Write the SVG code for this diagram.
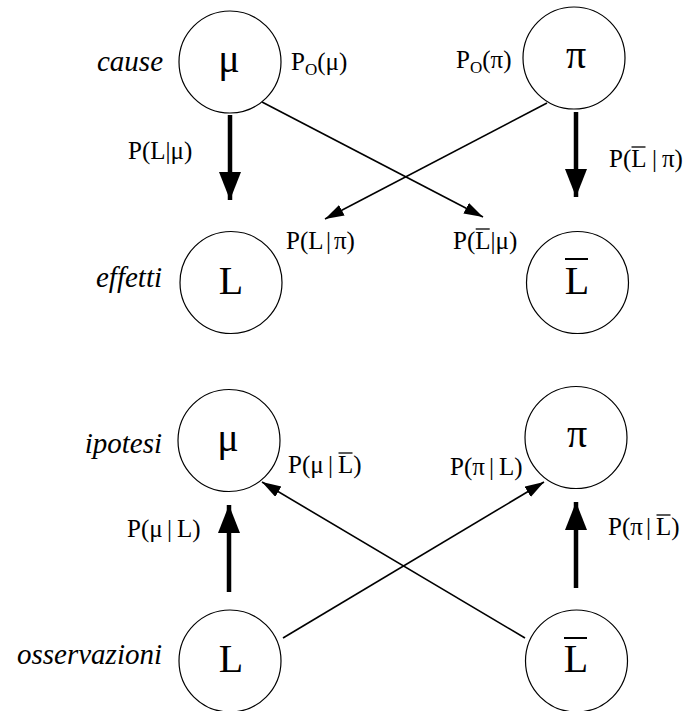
<svg xmlns="http://www.w3.org/2000/svg" width="687" height="711" viewBox="0 0 687 711">
<style>
text{font-family:"Liberation Serif","Times New Roman",serif}
.node circle{fill:#fff;stroke:#000;stroke-width:1.2}
.big{font-size:40px;text-anchor:middle}
.greek{font-size:40px;text-anchor:middle}
.lab{font-size:25px}
.sub{font-size:17px}
.it{font-size:29px;font-style:italic;text-anchor:end}
.bar{stroke:#000;stroke-width:1.3}
.bigbar{stroke:#000;stroke-width:2}
.thick{stroke:#000;stroke-width:4.5;fill:none}
.thin{stroke:#000;stroke-width:1.6;fill:none}
</style>
<defs>
<marker id="hb" markerUnits="userSpaceOnUse" markerWidth="30" markerHeight="24" refX="28" refY="11" orient="auto"><path d="M0,0 L28,11 L0,22 z" fill="#000"/></marker>
<marker id="hs" markerUnits="userSpaceOnUse" markerWidth="20" markerHeight="14" refX="19" refY="6" orient="auto"><path d="M0,0 L19,6 L0,12 z" fill="#000"/></marker>
</defs>
<rect width="687" height="711" fill="#fff"/>
<g id="connectors">
<line class="thick" x1="230" y1="115" x2="230" y2="200" marker-end="url(#hb)"/>
<line class="thick" x1="576" y1="112" x2="576" y2="197" marker-end="url(#hb)"/>
<line class="thin" x1="262" y1="102" x2="483" y2="217" marker-end="url(#hs)"/>
<line class="thin" x1="547" y1="103" x2="325" y2="219" marker-end="url(#hs)"/>
<line class="thick" x1="229" y1="592" x2="229" y2="505" marker-end="url(#hb)"/>
<line class="thick" x1="576" y1="588" x2="576" y2="502" marker-end="url(#hb)"/>
<line class="thin" x1="283" y1="638" x2="544" y2="482" marker-end="url(#hs)"/>
<line class="thin" x1="525" y1="638" x2="262" y2="482" marker-end="url(#hs)"/>
</g>
<g id="node-mu-cause" class="node"><circle cx="230" cy="62" r="51"/><text class="greek" x="229" y="72">μ</text></g>
<g id="node-pi-cause" class="node"><circle cx="574" cy="58" r="51"/><text class="greek" x="576" y="68">π</text></g>
<g id="node-L-effetti" class="node"><circle cx="231" cy="282.5" r="51"/><text class="big" x="231" y="294">L</text></g>
<g id="node-Lbar-effetti" class="node"><circle cx="577.5" cy="282.5" r="51"/><text class="big" x="577" y="294">L</text><line class="bigbar" x1="565" y1="259" x2="588" y2="259"/></g>
<g id="node-mu-ipotesi" class="node"><circle cx="229" cy="440.5" r="51"/><text class="greek" x="228" y="451">μ</text></g>
<g id="node-pi-ipotesi" class="node"><circle cx="576" cy="437.5" r="51"/><text class="greek" x="577" y="447">π</text></g>
<g id="node-L-oss" class="node"><circle cx="230" cy="661" r="51"/><text class="big" x="231" y="672">L</text></g>
<g id="node-Lbar-oss" class="node"><circle cx="576.5" cy="661" r="51"/><text class="big" x="576" y="672">L</text><line class="bigbar" x1="564" y1="638" x2="587" y2="638"/></g>
<g id="labels">
<text class="it" x="163" y="71">cause</text>
<text class="it" x="162" y="287">effetti</text>
<text class="it" x="162" y="453">ipotesi</text>
<text class="it" x="162" y="664">osservazioni</text>
<text class="lab" x="291" y="70">P<tspan class="sub" dy="5">O</tspan><tspan dy="-5">(μ)</tspan></text>
<text class="lab" x="456" y="68">P<tspan class="sub" dy="5">O</tspan><tspan dy="-5">(π)</tspan></text>
<text class="lab" x="128" y="159">P(L|μ)</text>
<text class="lab" x="609" y="167">P(L<tspan x="652">|</tspan><tspan x="662">π)</tspan></text>
<line class="bar" x1="631.5" y1="147" x2="645.5" y2="147"/>
<text class="lab" x="286" y="249">P(L<tspan x="326">|</tspan><tspan x="334">π)</tspan></text>
<text class="lab" x="453" y="249">P(L|μ)</text>
<line class="bar" x1="475.7" y1="229" x2="489.7" y2="229"/>
<text class="lab" x="288" y="473">P(μ<tspan x="328">|</tspan><tspan x="338">L)</tspan></text>
<line class="bar" x1="338.5" y1="453" x2="352.5" y2="453"/>
<text class="lab" x="127" y="537">P(μ<tspan x="167">|</tspan><tspan x="177">L)</tspan></text>
<text class="lab" x="450" y="475">P(π<tspan x="489">|</tspan><tspan x="499">L)</tspan></text>
<text class="lab" x="608" y="535">P(π<tspan x="646">|</tspan><tspan x="656">L)</tspan></text>
<line class="bar" x1="656.5" y1="515" x2="670.5" y2="515"/>
</g>
</svg>
